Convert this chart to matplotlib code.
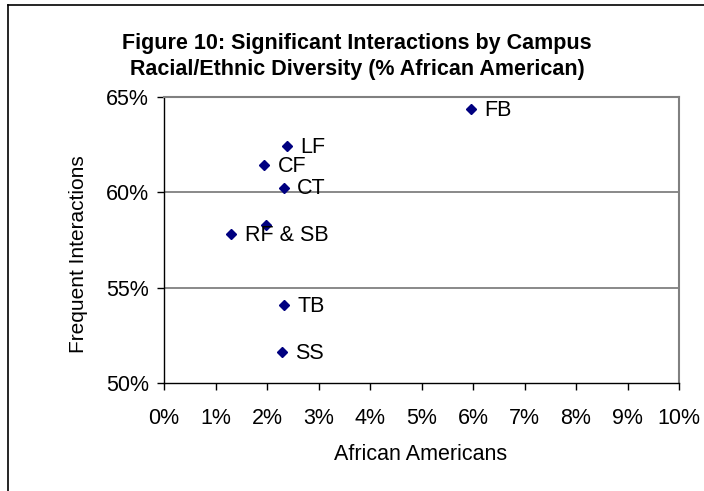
import matplotlib
matplotlib.use("Agg")
import matplotlib.pyplot as plt
from matplotlib.lines import Line2D
from matplotlib.ticker import FuncFormatter

# Data (percent)
campus = ["FB", "LF", "CF", "CT", "", "RF & SB", "TB", "SS"]
african_american = [5.97, 2.38, 1.95, 2.33, 1.98, 1.31, 2.33, 2.29]
frequent_interactions = [64.35, 62.41, 61.45, 60.25, 58.27, 57.80, 54.11, 51.61]

x_ticks = [0, 1, 2, 3, 4, 5, 6, 7, 8, 9, 10]
y_ticks = [50, 55, 60, 65]

plt.rcParams['font.family'] = ['Liberation Sans', 'DejaVu Sans']

fig = plt.figure(figsize=(7.04, 4.91), dpi=100)
ax = fig.add_axes([164/704, 1 - 383/491, (679-164)/704, (383-97)/491])

ax.set_xlim(0, 10)
ax.set_ylim(50, 65)
ax.set_xticks(x_ticks)
ax.set_yticks(y_ticks)
pct = FuncFormatter(lambda v, p: f"{v:.0f}%")
ax.xaxis.set_major_formatter(pct)
ax.yaxis.set_major_formatter(pct)

for yv in y_ticks[1:-1]:
    ax.axhline(yv, color='#808080', lw=1.3, zorder=1)

ax.plot(african_american, frequent_interactions, linestyle='none', marker='D',
        markersize=5.3, color='#000080', zorder=3)
for name, xv, yv in zip(campus, african_american, frequent_interactions):
    if name:
        ax.annotate(name, (xv, yv), xytext=(9.5, -1), textcoords='offset points',
                    ha='left', va='center', fontsize=15.5, color='black', zorder=4)

for s in ['top', 'right']:
    ax.spines[s].set_color('#808080')
    ax.spines[s].set_linewidth(1.5)
for s in ['left', 'bottom']:
    ax.spines[s].set_color('black')
    ax.spines[s].set_linewidth(1.0)

ax.tick_params(axis='both', direction='out', length=5, width=1, labelsize=15.5, colors='black')
ax.tick_params(axis='x', pad=13)
ax.tick_params(axis='y', pad=6)

ax.set_xlabel("African Americans", fontsize=15.5)
ax.set_ylabel("Frequent Interactions", fontsize=15)
# axis title positions (pixel-based, relative to axes)
ax.xaxis.set_label_coords((421 - 164) / 515, -(454 - 383) / 286)
ax.xaxis.label.set_va('center')
ax.yaxis.set_label_coords((79 - 164) / 515, (383 - 254) / 286)
ax.yaxis.label.set_va('center')

fig.text(357/704, 1 - 43/491, "Figure 10: Significant Interactions by Campus",
         ha='center', va='center', fontsize=15.5, fontweight='bold')
fig.text(357/704, 1 - 70/491, "Racial/Ethnic Diversity (% African American)",
         ha='center', va='center', fontsize=15.5, fontweight='bold')

# outer chart border (cropped at right and bottom)
fig.add_artist(Line2D([8/704, 8/704], [0, 1 - 5/491], color='black', lw=1.2, transform=fig.transFigure))
fig.add_artist(Line2D([8/704, 1], [1 - 5/491, 1 - 5/491], color='black', lw=1.2, transform=fig.transFigure))

fig.savefig("out.png", dpi=100)
